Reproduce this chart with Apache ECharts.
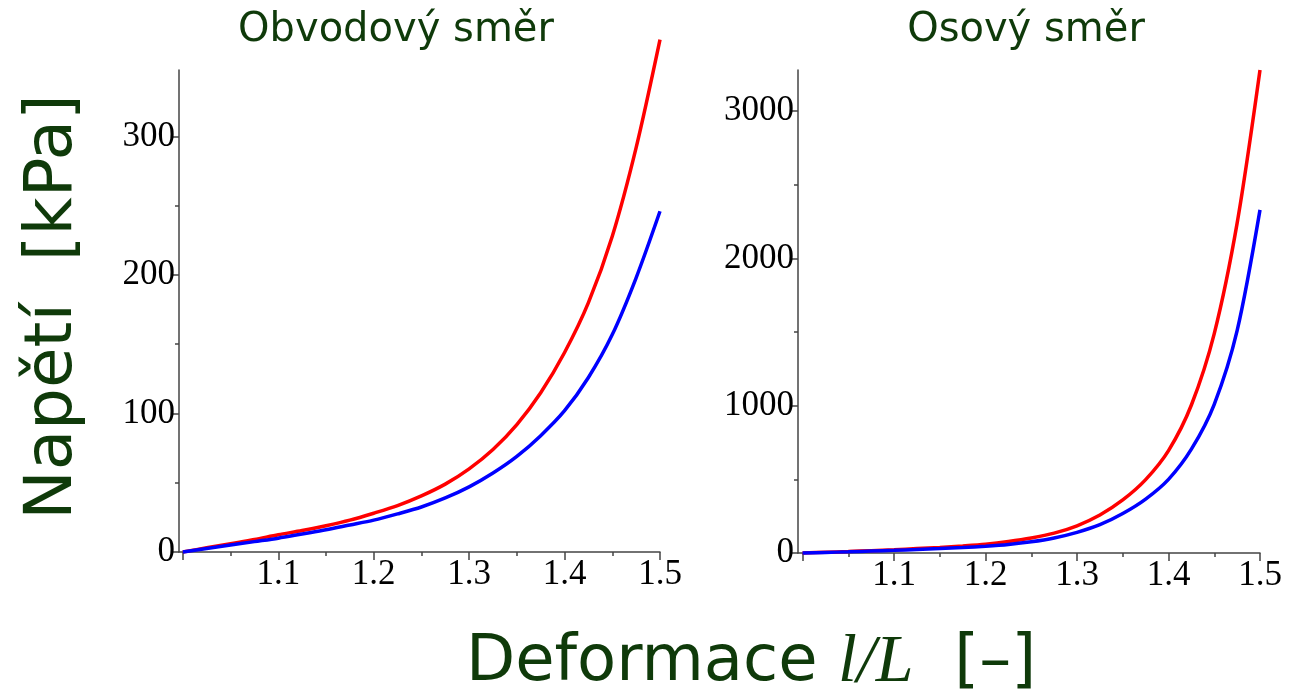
<!DOCTYPE html>
<html><head><meta charset="utf-8">
<script src="https://cdn.jsdelivr.net/npm/echarts@6/dist/echarts.min.js"></script>
<style>html,body{margin:0;padding:0;background:#fff}#c{width:1304px;height:694px}</style>
</head><body><div id="c"></div>
<script>
// ---- data ----
const strain = [1.000,1.025,1.050,1.075,1.100,1.125,1.150,1.175,1.200,1.225,1.250,1.275,1.300,1.325,1.350,1.375,1.400,1.425,1.450,1.475,1.500];
const circRed  = [0,3,6,9,12.5,15.5,19,23,28,33.5,40.5,49,60,74,92,115,144,180,228,292,370];
const circBlue = [0,2.5,5,7.5,10,13,16,19.5,23,27.5,32.5,39,47,57,69,84,102,126,157,198,246];
const axialRed  = [0,5,10,16,22,30,38,48,60,78,102,135,185,258,360,498,695,1005,1490,2240,3280];
const axialBlue = [0,4,8,13,18,24,30,37,46,58,76,102,140,192,268,366,500,705,1010,1510,2330];
const xLabelValues = [1.1,1.2,1.3,1.4,1.5];
const xMajorTicks = [1.0,1.1,1.2,1.3,1.4,1.5];
const xMinorTicks = [1.05,1.15,1.25,1.35,1.45];
const yLeftLabels = [0,100,200,300];
const yLeftMinor = [50,150,250];
const yRightLabels = [0,1000,2000,3000];
const yRightMinor = [500,1500,2500];
const titles = ['Obvodový směr','Osový směr'];
const yTitle = 'Napětí  [kPa]';
const xTitleA = 'Deformace ';
const xTitleB = 'l/L';
const xTitleC = '  [–]';

// ---- styles ----
const GREEN = '#0f3a0a';
const AX = {color:'#444', width:1.5};
const LBL = {fontFamily:'Liberation Serif', fontSize:35, color:'#000'};

function mainX(grid, min){
  return {type:'value', gridIndex:grid, min:min, max:1.5, position:'bottom',
    axisLine:{show:true, onZero:false, lineStyle:AX},
    axisTick:{show:true, customValues:xMajorTicks, length:8, lineStyle:AX},
    axisLabel:Object.assign({customValues:xLabelValues, margin:5, formatter:v=>Number(v).toFixed(1)}, LBL),
    splitLine:{show:false}};
}
function minorX(grid, min){
  return {type:'value', gridIndex:grid, min:min, max:1.5, position:'bottom',
    axisLine:{show:false, onZero:false},
    axisTick:{show:true, customValues:xMinorTicks, length:4, lineStyle:AX},
    axisLabel:{show:false}, splitLine:{show:false}};
}
function mainY(grid, max, labels){
  return {type:'value', gridIndex:grid, min:0, max:max, position:'left',
    axisLine:{show:true, onZero:false, lineStyle:AX},
    axisTick:{show:true, customValues:labels, length:8, lineStyle:AX},
    axisLabel:Object.assign({customValues:labels, margin:4, formatter:v=>String(v)}, LBL),
    splitLine:{show:false}};
}
function minorY(grid, max, minors){
  return {type:'value', gridIndex:grid, min:0, max:max, position:'left',
    axisLine:{show:false, onZero:false},
    axisTick:{show:true, customValues:minors, length:4, lineStyle:AX},
    axisLabel:{show:false}, splitLine:{show:false}};
}
function ser(xi, yi, ys, color){
  return {type:'line', xAxisIndex:xi, yAxisIndex:yi, data:strain.map((x,i)=>[x, ys[i]]),
    showSymbol:false, smooth:0.3, clip:false,
    lineStyle:{color:color, width:3.5}, itemStyle:{color:color}, silent:true, animation:false};
}

const chart = echarts.init(document.getElementById('c'));
chart.setOption({
  backgroundColor:'#fff',
  animation:false,
  grid:[
    {left:179, top:70, width:481, height:482},
    {left:798, top:70, width:462, height:483}
  ],
  xAxis:[ mainX(0,0.996), minorX(0,0.996), mainX(1,0.995), minorX(1,0.995) ],
  yAxis:[ mainY(0,348,yLeftLabels), minorY(0,348,yLeftMinor), mainY(1,3280,yRightLabels), minorY(1,3280,yRightMinor) ],
  series:[
    ser(0,0,circRed,'#ff0000'), ser(0,0,circBlue,'#0000ff'),
    ser(2,2,axialRed,'#ff0000'), ser(2,2,axialBlue,'#0000ff')
  ],
  graphic:[
    {type:'text', x:396, y:31, style:{text:titles[0], font:'40px "DejaVu Sans"', fill:GREEN, align:'center', verticalAlign:'middle', textAlign:'center', textVerticalAlign:'middle'}},
    {type:'text', x:1026, y:31, style:{text:titles[1], font:'40px "DejaVu Sans"', fill:GREEN, align:'center', verticalAlign:'middle', textAlign:'center', textVerticalAlign:'middle'}},
    {type:'text', x:54, y:307, rotation:Math.PI/2, style:{text:yTitle, font:'66px "DejaVu Sans"', fill:GREEN, align:'center', verticalAlign:'middle', textAlign:'center', textVerticalAlign:'middle'}},
    {type:'text', x:751, y:663, style:{
      text:'{a|'+xTitleA+'}{b|'+xTitleB+'}{a|'+xTitleC+'}',
      align:'center', verticalAlign:'middle', textAlign:'center', textVerticalAlign:'middle', fill:GREEN,
      rich:{
        a:{fontFamily:'DejaVu Sans', fontSize:64, fill:GREEN, color:GREEN},
        b:{fontFamily:'Liberation Serif', fontStyle:'italic', fontSize:68, fill:GREEN, color:GREEN}
      }}}
  ]
});
</script>
</body></html>
